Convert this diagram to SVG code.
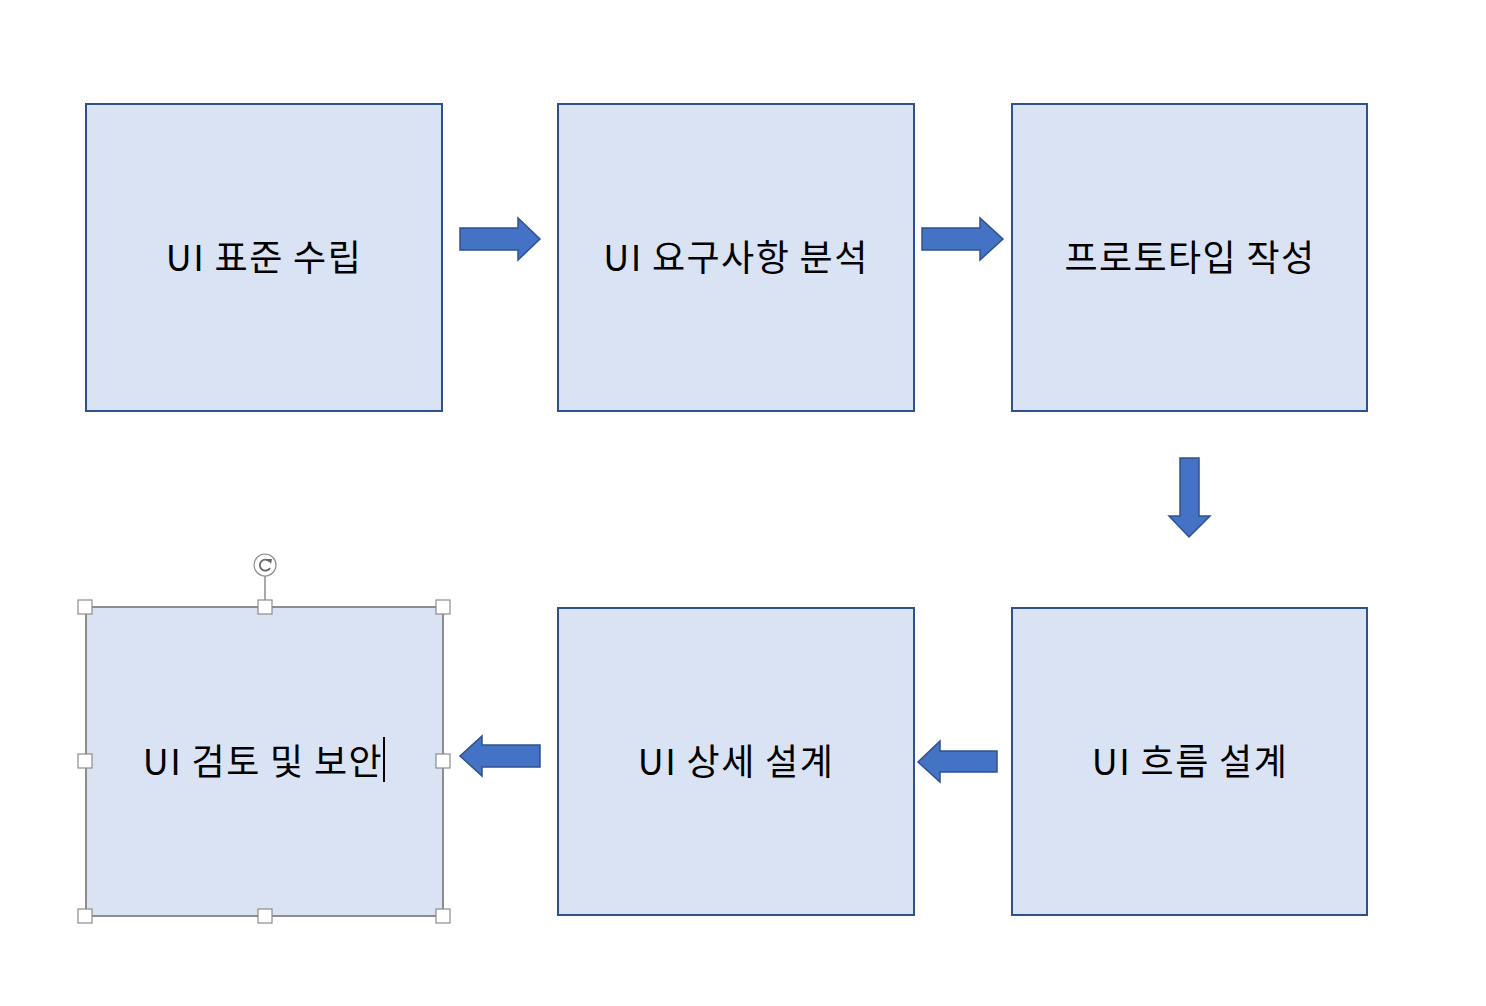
<svg xmlns="http://www.w3.org/2000/svg" width="1486" height="1006" viewBox="0 0 1486 1006">
<style>
.box{fill:#DAE3F3;stroke:#2F528F;stroke-width:2}
.sel{fill:#DAE3F3;stroke:#8C8C8C;stroke-width:2}
.lbl{font-family:"Noto Sans CJK KR","Noto Sans",sans-serif;font-size:36px;letter-spacing:1.4px;fill:#000;text-anchor:middle;dominant-baseline:central}
.arr{fill:#4472C4;stroke:#2F528F;stroke-width:1.5}
.h{fill:#fff;stroke:#8C8C8C;stroke-width:1.2}
</style>
<rect width="1486" height="1006" fill="#fff"/>
<g id="connectors">
<polygon class="arr" points="460,228 518,228 518,218 540,239 518,260 518,250 460,250"/>
<polygon class="arr" points="922,228 980,228 980,218 1003,239 980,260 980,250 922,250"/>
<polygon class="arr" points="1180,458 1199,458 1199,516 1210,516 1189,537 1169,516 1180,516"/>
<polygon class="arr" points="540,745 482,745 482,736 460,756 482,776 482,767 540,767"/>
<polygon class="arr" points="997,751 940,751 940,741 918,762 940,782 940,772 997,772"/>
</g>
<g id="n1"><rect class="box" x="86" y="104" width="356" height="307"/><text class="lbl" x="264" y="255">UI 표준 수립</text></g>
<g id="n2"><rect class="box" x="558" y="104" width="356" height="307"/><text class="lbl" x="736" y="255">UI 요구사항 분석</text></g>
<g id="n3"><rect class="box" x="1012" y="104" width="355" height="307"/><text class="lbl" x="1190" y="255">프로토타입 작성</text></g>
<g id="n4"><rect class="box" x="1012" y="608" width="355" height="307"/><text class="lbl" x="1190" y="759">UI 흐름 설계</text></g>
<g id="n5"><rect class="box" x="558" y="608" width="356" height="307"/><text class="lbl" x="736" y="759">UI 상세 설계</text></g>
<g id="n6"><rect class="sel" x="86" y="607" width="357" height="309"/><text class="lbl" x="263" y="759">UI 검토 및 보안</text>
<line x1="384" y1="737" x2="384" y2="782" stroke="#000" stroke-width="2"/>
<line x1="265" y1="576" x2="265" y2="600" stroke="#8C8C8C" stroke-width="1.5"/>
<circle cx="265" cy="565" r="11" fill="#fff" stroke="#8C8C8C" stroke-width="1.2"/>
<path d="M269.5 561.5 A5.5 5.5 0 1 0 270 568" fill="none" stroke="#666" stroke-width="1.8"/>
<polygon points="267,559 272,559 271,564" fill="#666"/>
<rect class="h" x="78" y="600" width="14" height="14"/>
<rect class="h" x="258" y="600" width="14" height="14"/>
<rect class="h" x="436" y="600" width="14" height="14"/>
<rect class="h" x="78" y="754" width="14" height="14"/>
<rect class="h" x="436" y="754" width="14" height="14"/>
<rect class="h" x="78" y="909" width="14" height="14"/>
<rect class="h" x="258" y="909" width="14" height="14"/>
<rect class="h" x="436" y="909" width="14" height="14"/>
</g>
</svg>
